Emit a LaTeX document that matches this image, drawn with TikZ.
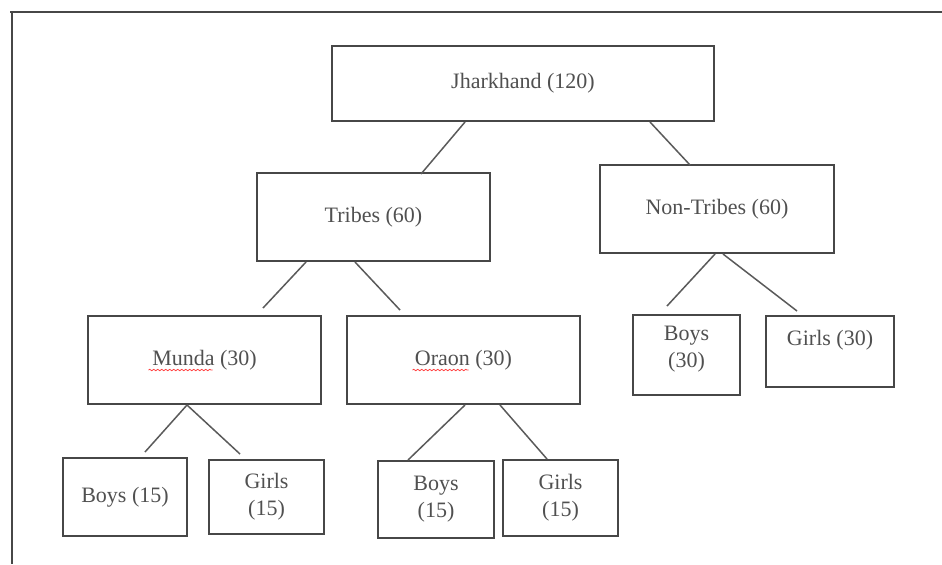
\documentclass[tikz,border=0pt]{standalone}
\usepackage{fontspec}
\setmainfont{Liberation Serif}
\usetikzlibrary{positioning, calc, decorations.pathmorphing}
\definecolor{boxgray}{HTML}{474747}
\definecolor{textgray}{HTML}{505050}
\definecolor{linkgray}{HTML}{5A5A5A}

\begin{document}
\begin{tikzpicture}[x=0.5pt, y=-0.5pt,
		every node/.style={draw=boxgray, line width=1pt, inner sep=0pt, text=textgray, align=center, font=\fontsize{11}{13.5}\selectfont},
		link/.style={linkgray, line width=0.75pt},
		squiggle/.style={red!75, line width=0.4pt, decorate, decoration={snake, amplitude=0.35pt, segment length=2pt}}]
		\useasboundingbox (0,0) rectangle (942,564);
		\draw[boxgray, line width=1.3pt] (10,12) -- (942,12) (12,12) -- (12,564);
		\node[minimum width=191pt, minimum height=37.5pt] (jharkhand) at (523,83.5) {Jharkhand (120)};
		\node[minimum width=116.5pt, minimum height=44pt] (tribes) at (373.5,217) {Tribes (60)};
		\node[minimum width=117pt, minimum height=44pt] (nontribes) at (717,209) {Non-Tribes (60)};
		\node[minimum width=116.5pt, minimum height=44pt] (munda) at (204.5,360) {Munda (30)};
		\node[minimum width=116.5pt, minimum height=44pt] (oraon) at (463.5,360) {Oraon (30)};
		\node[minimum width=53.5pt, minimum height=40pt, text depth=8.5pt] (ntboys) at (686.5,355) {Boys\\(30)};
		\node[minimum width=64pt, minimum height=35.5pt, text depth=14pt] (ntgirls) at (830,351.5) {Girls (30)};
		\node[minimum width=62pt, minimum height=39pt] (mboys) at (125,497) {Boys (15)};
		\node[minimum width=57.5pt, minimum height=37pt] (mgirls) at (266.5,497) {Girls\\(15)};
		\node[minimum width=58pt, minimum height=38.5pt] (oboys) at (436,499.5) {Boys\\(15)};
		\node[minimum width=57.5pt, minimum height=38pt] (ogirls) at (560.5,498) {Girls\\(15)};
		\foreach \from/\fx/\to/\tx/\ty in {jharkhand/-58/tribes/47.5/2, jharkhand/127/nontribes/-27/1,
				tribes/-67.5/munda/58.5/-7, tribes/-18.5/oraon/-63.5/-5,
				nontribes/-2/ntboys/-19.5/-8, nontribes/6/ntgirls/-33/-4,
				munda/-17.5/mboys/20/-5, munda/-17.5/mgirls/-26.5/-5,
				oraon/1.5/oboys/-28/0, oraon/36.5/ogirls/-13.5/0}
			\draw[link] ($(\from.south)+(\fx,0)$) -- ($(\to.north)+(\tx,\ty)$);
		\draw[squiggle] ($(munda.center)+(-56,10)$) -- ++(64,0);
		\draw[squiggle] ($(oraon.center)+(-51,10)$) -- ++(56,0);
	\end{tikzpicture}
\end{document}
